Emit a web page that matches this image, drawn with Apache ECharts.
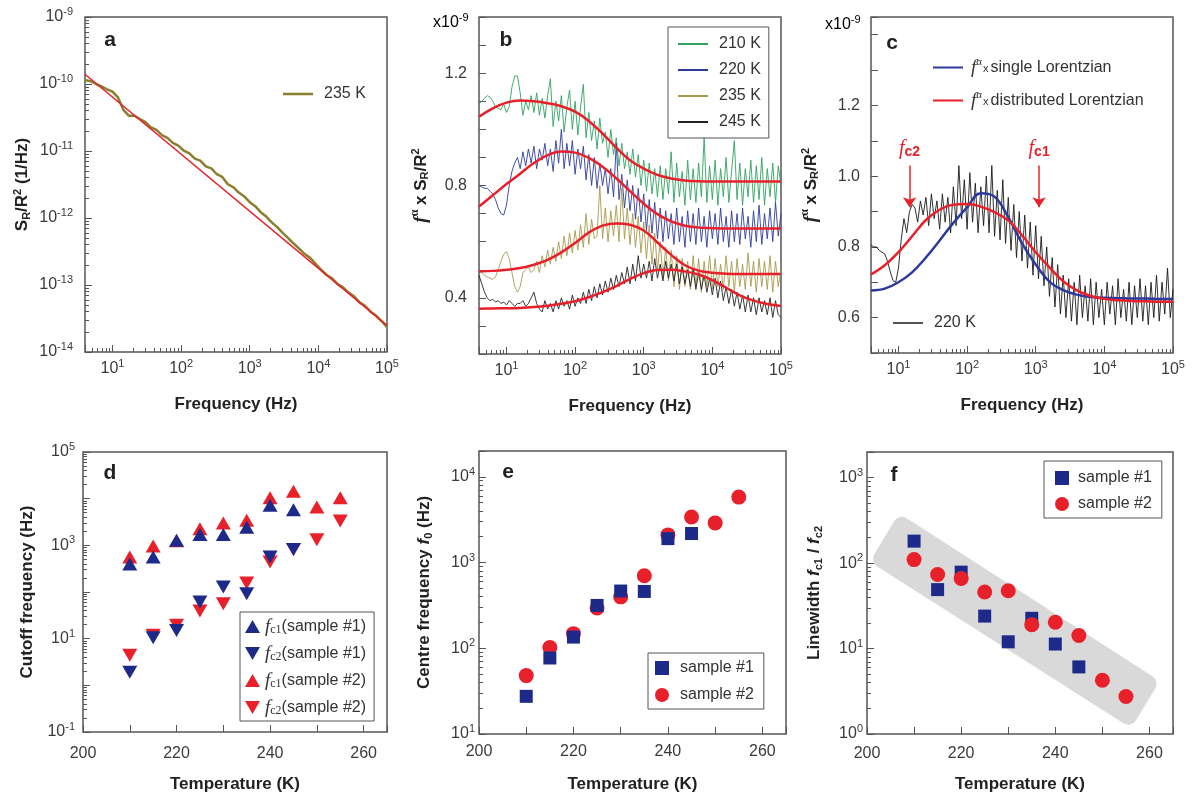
<!DOCTYPE html>
<html>
<head>
<meta charset="utf-8">
<script src="https://cdn.jsdelivr.net/npm/echarts@6/dist/echarts.min.js"></script>
<style>
  html, body { margin: 0; padding: 0; background: #fff; }
  #chart { width: 1192px; height: 801px; }
</style>
</head>
<body>
<div id="chart"></div>
<script>
'use strict';

// ---------------- data ----------------

// sampling grids of the measured spectra (log10 f from 0.6 to 5)
var freqGrid = [];
for (var i = 0; i <= 110; i++) freqGrid.push(Math.pow(10, 0.6 + 0.04 * i));
var freqGridA = [];
for (var j = 0; j <= 55; j++) freqGridA.push(Math.pow(10, 0.6 + 0.08 * j));

// frequencies at which the fitted curves were read
var freqFit = [3.98, 6.31, 10, 15.8, 25.1, 39.8, 63.1, 100, 158, 251, 398, 631, 1000,
  1585, 2512, 3981, 6310, 10000, 15850, 25120, 39810, 63100, 100000];

// panel a : S_R/R^2 at 235 K and the 1/f^alpha line
var specA235 = [1.15e-10, 1.1e-10, 1.0e-10, 9.2e-11, 8.3e-11, 7.7e-11, 6.3e-11, 4.1e-11, 3.35e-11, 3.36e-11,
  3.0e-11, 2.69e-11, 2.25e-11, 2.06e-11, 1.72e-11, 1.57e-11, 1.32e-11, 1.2e-11, 1.01e-11, 9.2e-12,
  7.7e-12, 7.2e-12, 5.9e-12, 5.5e-12, 4.5e-12, 4.1e-12, 3.2e-12, 2.88e-12, 2.4e-12, 2.1e-12,
  1.72e-12, 1.5e-12, 1.22e-12, 1.05e-12, 8.6e-13, 7.3e-13, 6.0e-13, 5.0e-13, 4.16e-13, 3.5e-13,
  2.9e-13, 2.54e-13, 2.07e-13, 1.69e-13, 1.41e-13, 1.26e-13, 1.03e-13, 9.2e-14, 7.7e-14, 6.8e-14,
  5.5e-14, 4.9e-14, 4.0e-14, 3.5e-14, 2.9e-14, 2.35e-14];
var lineAFreq = [3.98, 100000];
var lineAValue = [1.4e-10, 2.5e-14];

// panel b : f^alpha x S_R/R^2 (x1e-9)
var specB210 = [1.09, 1.10, 1.11, 1.12, 1.115, 1.10, 1.08, 1.075, 1.07, 1.09,
  1.06, 1.08, 1.15, 1.19, 1.19, 1.13, 1.05, 1.10, 1.07, 1.12,
  1.06, 1.13, 1.05, 1.11, 1.04, 1.12, 1.18, 1.01, 1.10, 1.03,
  1.12, 0.99, 1.08, 1.14, 1.00, 1.10, 0.98, 1.08, 1.16, 0.97,
  1.06, 0.96, 1.03, 0.93, 1.04, 0.95, 0.99, 0.90, 1.00, 0.91,
  0.97, 0.87, 0.95, 0.86, 0.92, 0.84, 0.93, 0.83, 0.91, 0.80,
  0.89, 0.78, 0.88, 0.77, 0.86, 0.76, 0.87, 0.75, 0.86, 0.77,
  0.92, 0.74, 0.88, 0.76, 0.85, 0.73, 0.89, 0.75, 0.86, 0.74,
  0.88, 0.76, 0.97, 0.74, 0.87, 0.75, 0.89, 0.73, 0.86, 0.76,
  0.90, 0.74, 0.85, 0.96, 0.75, 0.88, 0.73, 0.86, 0.76, 0.89,
  0.74, 0.87, 0.75, 0.90, 0.73, 0.86, 0.76, 0.88, 0.74, 0.87, 0.80];
var specB220 = [0.80, 0.795, 0.79, 0.79, 0.78, 0.77, 0.75, 0.72, 0.70, 0.695,
  0.73, 0.80, 0.85, 0.88, 0.90, 0.86, 0.92, 0.87, 0.93, 0.88,
  0.94, 0.86, 0.93, 0.89, 0.95, 0.87, 0.93, 0.85, 0.96, 0.88,
  1.00, 0.86, 0.95, 0.87, 0.96, 0.84, 0.93, 0.86, 0.94, 0.82,
  0.91, 0.80, 0.90, 0.79, 0.88, 0.80, 0.86, 0.77, 0.86, 0.76,
  0.95, 0.75, 0.84, 0.72, 0.82, 0.71, 0.80, 0.68, 0.79, 0.67,
  0.77, 0.64, 0.75, 0.63, 0.74, 0.61, 0.72, 0.60, 0.71, 0.61,
  0.70, 0.59, 0.72, 0.60, 0.69, 0.58, 0.71, 0.60, 0.70, 0.59,
  0.72, 0.60, 0.69, 0.58, 0.71, 0.61, 0.70, 0.59, 0.72, 0.60,
  0.69, 0.58, 0.71, 0.60, 0.70, 0.59, 0.72, 0.61, 0.69, 0.58,
  0.71, 0.60, 0.73, 0.59, 0.70, 0.61, 0.72, 0.60, 0.74, 0.62, 0.70];
var specB235 = [0.50, 0.49, 0.48, 0.475, 0.47, 0.465, 0.475, 0.50, 0.53, 0.555,
  0.565, 0.54, 0.49, 0.44, 0.42, 0.44, 0.49, 0.50, 0.51, 0.49,
  0.50, 0.53, 0.49, 0.55, 0.51, 0.57, 0.52, 0.58, 0.53, 0.60,
  0.54, 0.62, 0.55, 0.63, 0.56, 0.64, 0.57, 0.66, 0.58, 0.70,
  0.59, 0.68, 0.61, 0.62, 0.80, 0.61, 0.72, 0.60, 0.71, 0.62,
  0.73, 0.60, 0.79, 0.61, 0.72, 0.59, 0.70, 0.58, 0.69, 0.56,
  0.67, 0.54, 0.66, 0.52, 0.63, 0.50, 0.60, 0.47, 0.58, 0.46,
  0.57, 0.44, 0.55, 0.43, 0.54, 0.44, 0.53, 0.43, 0.55, 0.44,
  0.54, 0.42, 0.53, 0.44, 0.55, 0.43, 0.54, 0.44, 0.52, 0.43,
  0.55, 0.44, 0.53, 0.42, 0.54, 0.44, 0.52, 0.43, 0.56, 0.44,
  0.53, 0.42, 0.54, 0.44, 0.53, 0.43, 0.55, 0.42, 0.53, 0.44, 0.50];
var specB245 = [0.48, 0.45, 0.42, 0.40, 0.39, 0.395, 0.385, 0.39, 0.38, 0.385,
  0.375, 0.39, 0.38, 0.37, 0.38, 0.38, 0.39, 0.37, 0.38, 0.40,
  0.42, 0.38, 0.36, 0.35, 0.39, 0.36, 0.38, 0.35, 0.39, 0.36,
  0.40, 0.37, 0.39, 0.36, 0.41, 0.37, 0.40, 0.38, 0.42, 0.38,
  0.43, 0.39, 0.44, 0.40, 0.45, 0.41, 0.46, 0.42, 0.47, 0.43,
  0.48, 0.44, 0.49, 0.45, 0.51, 0.45, 0.52, 0.46, 0.55, 0.47,
  0.52, 0.47, 0.53, 0.46, 0.54, 0.47, 0.52, 0.46, 0.53, 0.47,
  0.52, 0.46, 0.52, 0.45, 0.51, 0.45, 0.50, 0.44, 0.50, 0.43,
  0.49, 0.43, 0.48, 0.42, 0.47, 0.41, 0.47, 0.40, 0.46, 0.39,
  0.44, 0.38, 0.43, 0.37, 0.42, 0.36, 0.41, 0.35, 0.41, 0.35,
  0.40, 0.34, 0.40, 0.35, 0.39, 0.34, 0.40, 0.33, 0.39, 0.34, 0.33];
var fitB210 = [1.045, 1.075, 1.095, 1.103, 1.100, 1.093, 1.082, 1.063, 1.030, 0.985, 0.935, 0.890,
  0.860, 0.838, 0.825, 0.818, 0.815, 0.814, 0.814, 0.814, 0.814, 0.814, 0.814];
var fitB220 = [0.725, 0.765, 0.805, 0.842, 0.880, 0.908, 0.921, 0.917, 0.898, 0.867, 0.826, 0.780,
  0.735, 0.698, 0.672, 0.657, 0.650, 0.648, 0.647, 0.647, 0.647, 0.647, 0.647];
var fitB235 = [0.494, 0.496, 0.500, 0.506, 0.518, 0.535, 0.562, 0.595, 0.632, 0.657, 0.665, 0.660,
  0.640, 0.597, 0.553, 0.516, 0.497, 0.489, 0.486, 0.485, 0.485, 0.485, 0.485];
var fitB245 = [0.361, 0.362, 0.363, 0.364, 0.367, 0.372, 0.379, 0.388, 0.402, 0.420, 0.442, 0.467,
  0.488, 0.499, 0.500, 0.494, 0.483, 0.463, 0.436, 0.409, 0.390, 0.378, 0.371];

// panel c : 220 K spectrum with two fits
var specC220 = [0.805, 0.80, 0.80, 0.79, 0.785, 0.78, 0.76, 0.73, 0.705, 0.70,
  0.74, 0.82, 0.88, 0.84, 0.90, 0.92, 0.91, 0.87, 0.93, 0.89,
  0.94, 0.86, 0.95, 0.88, 0.93, 0.85, 0.95, 0.87, 0.94, 0.84,
  0.97, 0.86, 1.03, 0.88, 0.99, 0.85, 1.01, 0.87, 0.98, 0.84,
  0.97, 0.86, 1.00, 0.84, 1.03, 0.83, 0.96, 0.82, 0.99, 0.81,
  0.94, 0.79, 0.92, 0.77, 0.90, 0.76, 0.89, 0.74, 0.87, 0.72,
  0.86, 0.71, 0.83, 0.69, 0.80, 0.66, 0.77, 0.63, 0.75, 0.61,
  0.72, 0.60, 0.71, 0.59, 0.70, 0.58, 0.72, 0.60, 0.69, 0.59,
  0.71, 0.58, 0.70, 0.60, 0.68, 0.58, 0.70, 0.61, 0.69, 0.58,
  0.71, 0.60, 0.68, 0.59, 0.70, 0.58, 0.69, 0.60, 0.71, 0.59,
  0.69, 0.58, 0.70, 0.60, 0.72, 0.59, 0.70, 0.61, 0.74, 0.60, 0.68];
var fitCSingle = [0.677, 0.682, 0.700, 0.728, 0.770, 0.818, 0.868, 0.912, 0.952, 0.942, 0.884, 0.810,
  0.750, 0.702, 0.678, 0.665, 0.658, 0.656, 0.655, 0.654, 0.654, 0.653, 0.653];
var fitCDist = [0.722, 0.748, 0.785, 0.830, 0.876, 0.905, 0.919, 0.921, 0.914, 0.898, 0.875, 0.833,
  0.785, 0.742, 0.703, 0.677, 0.661, 0.653, 0.649, 0.647, 0.646, 0.645, 0.645];
var arrowFreq = [14.5, 1120];
var arrowName = ['c2', 'c1'];
var arrowTop = 1.03;
var arrowTip = 0.912;

// panel d : cutoff frequencies
var tempS1 = [210, 215, 220, 225, 230, 235, 240, 245];
var tempS2 = [210, 215, 220, 225, 230, 235, 240, 245, 250, 255];
var fc1S1 = [400, 560, 1280, 1700, 1700, 2450, 7200, 5800];
var fc2S1 = [1.9, 10.5, 15, 61, 128, 92, 560, 810];
var fc1S2 = [560, 970, 1250, 2280, 3000, 3450, 10500, 14400, 6600, 10500];
var fc2S2 = [4.4, 11.8, 19.3, 39, 56, 155, 440, 810, 1320, 3330];

// panel e : centre frequency f0
var f0S1 = [27.5, 77, 135, 316, 465, 460, 1900, 2180];
var f0S2 = [48, 102, 148, 295, 398, 700, 2100, 3400, 2900, 5800];

// panel f : linewidth fc1/fc2 and the shaded guide band
var lwS1 = [181, 49, 78.5, 24, 12, 22.6, 11.3, 6.1];
var lwS2 = [110, 73.6, 66, 46, 47.6, 19, 20.3, 14.2, 4.26, 2.75];
var bandCorners = [[203.2, 112], [207.4, 274], [259.6, 3.86], [255.5, 1.64]];

// ---------------- style ----------------
var FONT = '"Liberation Sans", Arial, Helvetica, sans-serif';
var SERIF = '"Liberation Serif", "Times New Roman", serif';
var INK = '#3a3a3a';
var FRAME = '#555';
var RED = '#e8202a';
var NAVY = '#1d2a8a';
var DOWN = 'path://M0,0L10,0L5,8.7Z';

var richTick = {
  b: { fontSize: 16, color: INK, fontFamily: FONT },
  s: { fontSize: 11, color: INK, fontFamily: FONT, padding: [0, 0, 10, 0] }
};
var richTitle = {
  t: { fontSize: 17, fontWeight: 'bold', color: '#222', fontFamily: FONT },
  sub: { fontSize: 11, fontWeight: 'bold', color: '#222', fontFamily: FONT, padding: [8, 0, 0, 0] },
  sup: { fontSize: 11, fontWeight: 'bold', color: '#222', fontFamily: FONT, padding: [0, 0, 10, 0] },
  f: { fontSize: 19, fontStyle: 'italic', color: '#222', fontFamily: SERIF },
  fi: { fontSize: 17, fontStyle: 'italic', fontWeight: 'bold', color: '#222', fontFamily: FONT },
  a: { fontSize: 12, color: '#222', fontFamily: SERIF, padding: [0, 0, 12, 0] }
};
var richLegend = {
  t: { fontSize: 16, color: '#333', fontFamily: FONT },
  f: { fontSize: 19, fontStyle: 'italic', color: '#333', fontFamily: SERIF },
  c: { fontSize: 12, color: '#333', fontFamily: SERIF, padding: [6, 0, 0, 0] },
  a: { fontSize: 11, color: '#333', fontFamily: SERIF, padding: [0, 0, 10, 0] },
  x: { fontSize: 11, color: '#333', fontFamily: FONT, padding: [2, 2, 0, 1] }
};

var legendText = {
  a235: '{t|235 K}', b210: '{t|210 K}', b220: '{t|220 K}', b235: '{t|235 K}', b245: '{t|245 K}',
  cSingle: '{f|f}{a|α}{x|x}{t|single Lorentzian}',
  cDist: '{f|f}{a|α}{x|x}{t|distributed Lorentzian}',
  c220: '{t|220 K}',
  dU1: '{f|f}{c|c1}{t|(sample #1)}', dD1: '{f|f}{c|c2}{t|(sample #1)}',
  dU2: '{f|f}{c|c1}{t|(sample #2)}', dD2: '{f|f}{c|c2}{t|(sample #2)}',
  eS1: '{t|sample #1}', eS2: '{t|sample #2}', fS1: '{t|sample #1}', fS2: '{t|sample #2}'
};

// ---------------- helpers ----------------
function pairs(xs, ys) {
  return ys.map(function (y, k) { return [xs[k], y]; });
}

function logMinor(lo, hi) {
  var out = [];
  for (var k = Math.floor(Math.log10(lo)); k <= Math.ceil(Math.log10(hi)); k++) {
    for (var m = 2; m <= 9; m++) {
      var v = m * Math.pow(10, k);
      if (v >= lo * 0.9999 && v <= hi * 1.0001) out.push(v);
    }
  }
  return out;
}

function expLabel(oddOnly) {
  return function (v) {
    var e = Math.round(Math.log10(v));
    if (Math.abs(v / Math.pow(10, e) - 1) > 1e-6) return '';
    if (oddOnly && e % 2 === 0) return '';
    return '{b|10}{s|' + e + '}';
  };
}

function nameOpts(name, gap) {
  return {
    name: name,
    nameLocation: 'middle',
    nameGap: gap,
    nameTextStyle: { fontSize: 17, fontWeight: 'bold', color: '#222', fontFamily: FONT, rich: richTitle }
  };
}

function logMain(grid, pos, lo, hi, fmt, margin, name, gap) {
  var ax = {
    type: 'log', logBase: 10, gridIndex: grid, position: pos, min: lo, max: hi,
    axisLine: { show: false },
    splitLine: { show: false },
    axisTick: { inside: true, length: 7, lineStyle: { color: FRAME, width: 1 } },
    axisLabel: { formatter: fmt, rich: richTick, margin: margin, hideOverlap: false }
  };
  return Object.assign(ax, nameOpts(name, gap));
}

function logMinorAxis(grid, pos, lo, hi) {
  return {
    type: 'log', logBase: 10, gridIndex: grid, position: pos, min: lo, max: hi,
    axisLine: { show: false },
    splitLine: { show: false },
    axisLabel: { show: false },
    axisTick: { inside: true, length: 4, customValues: logMinor(lo, hi), lineStyle: { color: FRAME, width: 1 } }
  };
}

function linAxis(grid, pos, lo, hi, step, fmt, margin, name, gap) {
  var ax = {
    type: 'value', gridIndex: grid, position: pos, min: lo, max: hi, interval: step,
    axisLine: { show: false },
    splitLine: { show: false },
    axisTick: { inside: true, length: 7, lineStyle: { color: FRAME, width: 1 } },
    axisLabel: { formatter: fmt, color: INK, fontSize: 16, fontFamily: FONT, margin: margin, hideOverlap: false }
  };
  return Object.assign(ax, nameOpts(name, gap));
}

function tempLabel(v) {
  var r = Math.round(v);
  return (Math.abs(v - r) < 1e-6 && r % 20 === 0 && r <= 260) ? String(r) : '';
}

function gridBox(left, top, width, height) {
  return {
    left: left, top: top, width: width, height: height,
    show: true, borderColor: FRAME, borderWidth: 1.5, backgroundColor: 'transparent',
    containLabel: false, outerBoundsMode: 'none'
  };
}

function noisy(name, xi, yi, xs, ys, color, width) {
  return {
    name: name, type: 'line', xAxisIndex: xi, yAxisIndex: yi, data: pairs(xs, ys),
    symbol: 'none', lineStyle: { color: color, width: width }, itemStyle: { color: color }, z: 2
  };
}

function fitLine(name, xi, yi, ys, color) {
  return {
    name: name, type: 'line', xAxisIndex: xi, yAxisIndex: yi, data: pairs(freqFit, ys),
    symbol: 'none', smooth: 0.4, lineStyle: { color: color, width: 2.5 }, itemStyle: { color: color }, z: 4
  };
}

function dots(name, xi, yi, xs, ys, symbol, size, color, z) {
  return {
    name: name, type: 'scatter', xAxisIndex: xi, yAxisIndex: yi, data: pairs(xs, ys),
    symbol: symbol, symbolSize: size, itemStyle: { color: color, opacity: 1 }, z: z
  };
}

function lineItems(names) {
  return names.map(function (n) { return { name: n, icon: 'rect' }; });
}

function legendBox(data, left, top, gap, padding, border, extra) {
  return Object.assign({
    data: data, left: left, top: top, orient: 'vertical', itemGap: gap, padding: padding,
    borderColor: border ? FRAME : 'transparent', borderWidth: border ? 1 : 0,
    selectedMode: false, itemWidth: 30, itemHeight: 2,
    formatter: function (n) { return legendText[n]; },
    textStyle: { rich: richLegend, fontSize: 16, color: '#333', fontFamily: FONT, padding: [0, 0, 0, 6] }
  }, extra || {});
}

// ---------------- option ----------------
var freqFmt = expLabel(false);

var option = {
  animation: false,
  backgroundColor: '#fff',
  textStyle: { fontFamily: FONT },
  grid: [
    gridBox(85, 17, 302, 335),
    gridBox(479, 17, 302, 337),
    gridBox(871, 17, 302, 336),
    gridBox(83, 452, 304, 280),
    gridBox(479, 451, 307, 283),
    gridBox(867, 452, 306, 282)
  ],
  xAxis: [
    logMain(0, 'bottom', 3.98, 100000, freqFmt, 6, 'Frequency (Hz)', 44),
    logMinorAxis(0, 'bottom', 3.98, 100000),
    logMain(1, 'bottom', 3.98, 100000, freqFmt, 6, 'Frequency (Hz)', 44),
    logMinorAxis(1, 'bottom', 3.98, 100000),
    logMain(2, 'bottom', 3.98, 100000, freqFmt, 6, 'Frequency (Hz)', 44),
    logMinorAxis(2, 'bottom', 3.98, 100000),
    linAxis(3, 'bottom', 200, 265, 10, tempLabel, 14, 'Temperature (K)', 44),
    linAxis(4, 'bottom', 200, 265, 10, tempLabel, 10, 'Temperature (K)', 42),
    linAxis(5, 'bottom', 200, 265, 10, tempLabel, 12, 'Temperature (K)', 42)
  ],
  yAxis: [
    logMain(0, 'left', 1e-14, 1e-9, freqFmt, 12, '{t|S}{sub|R}{t|/R}{sup|2}{t| (1/Hz)}', 52),
    logMinorAxis(0, 'left', 1e-14, 1e-9),
    linAxis(1, 'left', 0.2, 1.4, 0.1, function (v) {
      var k = Math.round(v * 10);
      return k % 4 === 0 ? v.toFixed(1) : '';
    }, 12, '{f|f}{a|α}{t| x S}{sub|R}{t|/R}{sup|2}', 46),
    linAxis(2, 'left', 0.5, 1.45, 0.1, function (v) {
      var k = Math.round(v * 10);
      return (k % 2 === 0 && k >= 6 && k <= 12) ? v.toFixed(1) : '';
    }, 11, '{f|f}{a|α}{t| x S}{sub|R}{t|/R}{sup|2}', 48),
    logMain(3, 'left', 0.1, 100000, expLabel(true), 8, 'Cutoff frequency (Hz)', 47),
    logMinorAxis(3, 'left', 0.1, 100000),
    logMain(4, 'left', 10, 20000, freqFmt, 4, '{t|Centre frequency }{fi|f}{sub|0}{t| (Hz)}', 45),
    logMinorAxis(4, 'left', 10, 20000),
    logMain(5, 'left', 1, 2000, freqFmt, 4, '{t|Linewidth }{fi|f}{sub|c1}{t| / }{fi|f}{sub|c2}', 43),
    logMinorAxis(5, 'left', 1, 2000)
  ],
  legend: [
    legendBox(lineItems(['a235']), 283, 86, 10, 0, false, { itemHeight: 2.5 }),
    legendBox(lineItems(['b210', 'b220', 'b235', 'b245']), 668, 27, 10, [9, 8, 8, 10], true),
    legendBox(lineItems(['cSingle', 'cDist']), 933, 57, 13, 0, false, { textStyle: { rich: richLegend, padding: [0, 0, 0, 3] } }),
    legendBox(lineItems(['c220']), 893, 315, 10, 0, false, { itemHeight: 1.5 }),
    legendBox([
      { name: 'dU1', icon: 'triangle' }, { name: 'dD1', icon: DOWN },
      { name: 'dU2', icon: 'triangle' }, { name: 'dD2', icon: DOWN }
    ], 240, 612, 8, [5, 8, 4, 5], true, { itemWidth: 15, itemHeight: 13, textStyle: { rich: richLegend, padding: 0 } }),
    legendBox([{ name: 'eS1', icon: 'rect' }, { name: 'eS2', icon: 'circle' }], 648, 653, 11, [7, 10, 6, 7], true,
      { itemWidth: 14, itemHeight: 14 }),
    legendBox([{ name: 'fS1', icon: 'rect' }, { name: 'fS2', icon: 'circle' }], 1044, 461, 10, [9, 10, 6, 11], true,
      { itemWidth: 14, itemHeight: 14, textStyle: { rich: richLegend, padding: [0, 0, 0, 4] } })
  ],
  series: [
    // a
    noisy('a235', 0, 0, freqGridA, specA235, '#8a7f2e', 2.5),
    {
      name: 'aFit', type: 'line', xAxisIndex: 0, yAxisIndex: 0, data: pairs(lineAFreq, lineAValue),
      symbol: 'none', lineStyle: { color: RED, width: 1.5 }, z: 4
    },
    // b
    noisy('b210', 2, 2, freqGrid, specB210, '#2fa35f', 0.9),
    noisy('b220', 2, 2, freqGrid, specB220, '#2c3b9c', 0.9),
    noisy('b235', 2, 2, freqGrid, specB235, '#a8994c', 0.9),
    noisy('b245', 2, 2, freqGrid, specB245, '#222', 0.9),
    fitLine('bFit210', 2, 2, fitB210, RED),
    fitLine('bFit220', 2, 2, fitB220, RED),
    fitLine('bFit235', 2, 2, fitB235, RED),
    fitLine('bFit245', 2, 2, fitB245, RED),
    // c
    noisy('c220', 4, 3, freqGrid, specC220, '#1a1a1a', 0.9),
    fitLine('cSingle', 4, 3, fitCSingle, '#2b3a9e'),
    Object.assign(fitLine('cDist', 4, 3, fitCDist, RED), {
      markLine: {
        silent: true,
        symbol: ['none', 'arrow'],
        symbolSize: 10,
        lineStyle: { color: RED, width: 1.5, type: 'solid' },
        label: {
          show: true, position: 'start', distance: 6,
          formatter: function (p) { return '{f|f}{s|' + p.name + '}'; },
          rich: {
            f: { fontSize: 20, fontStyle: 'italic', color: RED, fontFamily: SERIF },
            s: { fontSize: 14, fontWeight: 'bold', color: RED, fontFamily: FONT, padding: [8, 0, 0, 0] }
          }
        },
        data: arrowFreq.map(function (f, k) {
          return [{ coord: [f, arrowTop], name: arrowName[k] }, { coord: [f, arrowTip] }];
        })
      }
    }),
    // d
    dots('dU2', 6, 4, tempS2, fc1S2, 'triangle', [15, 13], RED, 3),
    dots('dD2', 6, 4, tempS2, fc2S2, DOWN, [15, 13], RED, 3),
    dots('dU1', 6, 4, tempS1, fc1S1, 'triangle', [15, 13], NAVY, 4),
    dots('dD1', 6, 4, tempS1, fc2S1, DOWN, [15, 13], NAVY, 4),
    // e
    dots('eS2', 7, 6, tempS2, f0S2, 'circle', 15, RED, 3),
    dots('eS1', 7, 6, tempS1, f0S1, 'rect', 13, NAVY, 4),
    // f
    {
      name: 'fBand', type: 'custom', xAxisIndex: 8, yAxisIndex: 8, data: bandCorners, z: 1, silent: true,
      renderItem: function (params, api) {
        if (params.dataIndex !== 0) return null;
        var pts = bandCorners.map(function (c) { return api.coord(c); });
        return {
          type: 'polygon',
          shape: { points: pts },
          style: { fill: '#d9d9d9', stroke: '#d9d9d9', lineWidth: 18, lineJoin: 'round' }
        };
      }
    },
    dots('fS1', 8, 8, tempS1, lwS1, 'rect', 13, NAVY, 3),
    dots('fS2', 8, 8, tempS2, lwS2, 'circle', 15, RED, 4)
  ],
  graphic: [
    { type: 'text', x: 110, y: 40, style: { text: 'a', font: 'bold 21px ' + FONT, fill: '#222', align: 'center', verticalAlign: 'middle' } },
    { type: 'text', x: 506, y: 40, style: { text: 'b', font: 'bold 21px ' + FONT, fill: '#222', align: 'center', verticalAlign: 'middle' } },
    { type: 'text', x: 892, y: 43, style: { text: 'c', font: 'bold 21px ' + FONT, fill: '#222', align: 'center', verticalAlign: 'middle' } },
    { type: 'text', x: 110, y: 473, style: { text: 'd', font: 'bold 21px ' + FONT, fill: '#222', align: 'center', verticalAlign: 'middle' } },
    { type: 'text', x: 508, y: 472, style: { text: 'e', font: 'bold 21px ' + FONT, fill: '#222', align: 'center', verticalAlign: 'middle' } },
    { type: 'text', x: 894, y: 475, style: { text: 'f', font: 'bold 21px ' + FONT, fill: '#222', align: 'center', verticalAlign: 'middle' } },
    { type: 'text', x: 433, y: 23, style: { text: '{n|x10}{s|-9}', align: 'left', verticalAlign: 'middle',
      rich: { n: { fontSize: 16, color: INK, fontFamily: FONT }, s: { fontSize: 11, color: INK, fontFamily: FONT, padding: [0, 0, 10, 0] } } } },
    { type: 'text', x: 825, y: 25, style: { text: '{n|x10}{s|-9}', align: 'left', verticalAlign: 'middle',
      rich: { n: { fontSize: 16, color: INK, fontFamily: FONT }, s: { fontSize: 11, color: INK, fontFamily: FONT, padding: [0, 0, 10, 0] } } } }
  ]
};

var chart = echarts.init(document.getElementById('chart'), null, { renderer: 'canvas' });
chart.setOption(option);
</script>
</body>
</html>
